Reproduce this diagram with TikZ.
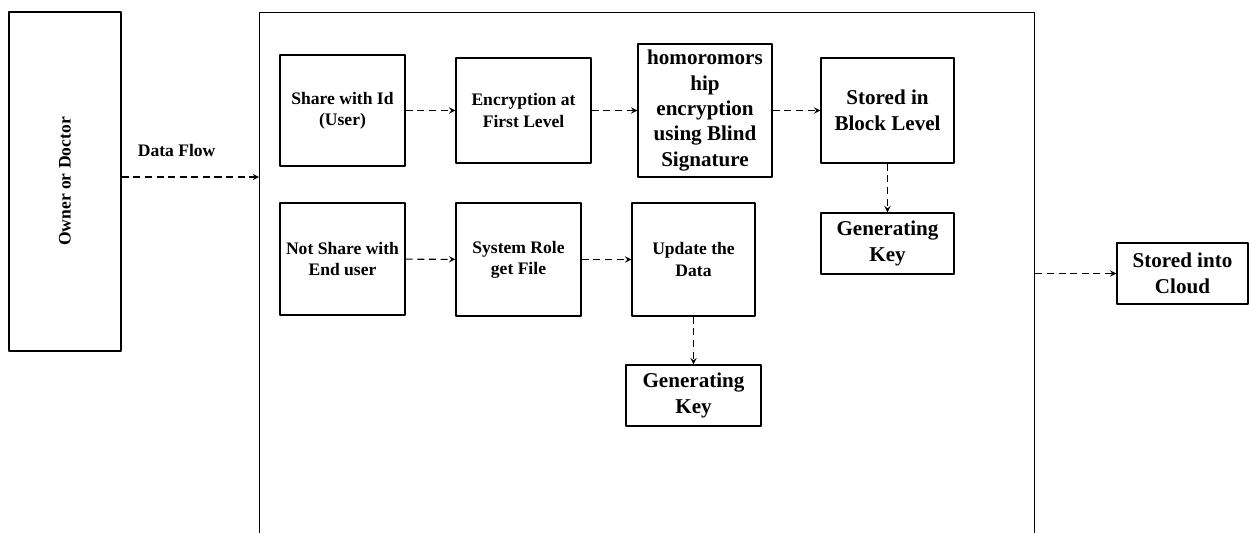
\documentclass[tikz,border=0pt]{standalone}
\usepackage{fontspec}
\setmainfont{Liberation Serif}
\begin{document}
\begin{tikzpicture}[>=stealth, line join=round]
	\tikzset{box/.style={draw, line width=0.8pt, align=center, font=\bfseries\fontsize{10}{12}\selectfont, inner sep=1pt},
		bigbox/.style={box, font=\bfseries\fontsize{12}{14.5}\selectfont},
		flow/.style={->, dashed, dash pattern=on 4pt off 2.6pt, line width=0.6pt}}
	\clip (0,0) rectangle (24.98,-10.64);
	% owner and the system frame (runs off the bottom)
	\node[box, minimum width=2.24cm, minimum height=6.78cm] (owner) at (1.30,-3.63) {\rotatebox{90}{Owner or Doctor}};
	\node[draw, line width=0.8pt, minimum width=15.5cm, minimum height=11cm, anchor=north west] (sys) at (5.18,-0.24) {};
	\coordinate (flowin) at (5.18,-3.54);
	\draw[flow] (owner.east |- flowin) -- (flowin) node[pos=0.4, above=8pt, font=\bfseries\fontsize{10}{12}\selectfont] {Data Flow};
	% shared branch
	\node[box, minimum width=2.5cm, minimum height=2.22cm] (share) at (6.85,-2.21) {Share with Id\\(User)};
	\node[box, minimum width=2.7cm, minimum height=2.1cm] (enc) at (10.47,-2.21) {Encryption at\\First Level};
	\node[bigbox, minimum width=2.68cm, minimum height=2.66cm] (homo) at (14.10,-2.21) {homoromors\\hip\\encryption\\using Blind\\Signature};
	\node[bigbox, minimum width=2.66cm, minimum height=2.1cm] (block) at (17.75,-2.21) {Stored in\\Block Level};
	\node[bigbox, minimum width=2.66cm, minimum height=1.22cm] (keyA) at (17.75,-4.87) {Generating\\Key};
	% not shared branch
	\node[box, minimum width=2.5cm, minimum height=2.24cm] (notshare) at (6.85,-5.18) {Not Share with\\End user};
	\node[box, minimum width=2.5cm, minimum height=2.26cm] (role) at (10.37,-5.19) {System Role\\get File};
	\node[box, minimum width=2.46cm, minimum height=2.26cm] (update) at (13.87,-5.19) {Update the\\Data};
	\node[bigbox, minimum width=2.7cm, minimum height=1.22cm] (keyB) at (13.87,-7.91) {Generating\\Key};
	% cloud
	\node[bigbox, minimum width=2.62cm, minimum height=1.22cm] (cloud) at (23.65,-5.47) {Stored into\\Cloud};
	\draw[flow] (share) -- (enc);
	\draw[flow] (enc) -- (homo);
	\draw[flow] (homo) -- (block);
	\draw[flow] (block) -- (keyA);
	\draw[flow] (notshare) -- (role);
	\draw[flow] (role) -- (update);
	\draw[flow] (update) -- (keyB);
	\draw[flow] (sys.east |- cloud) -- (cloud);
\end{tikzpicture}
\end{document}
